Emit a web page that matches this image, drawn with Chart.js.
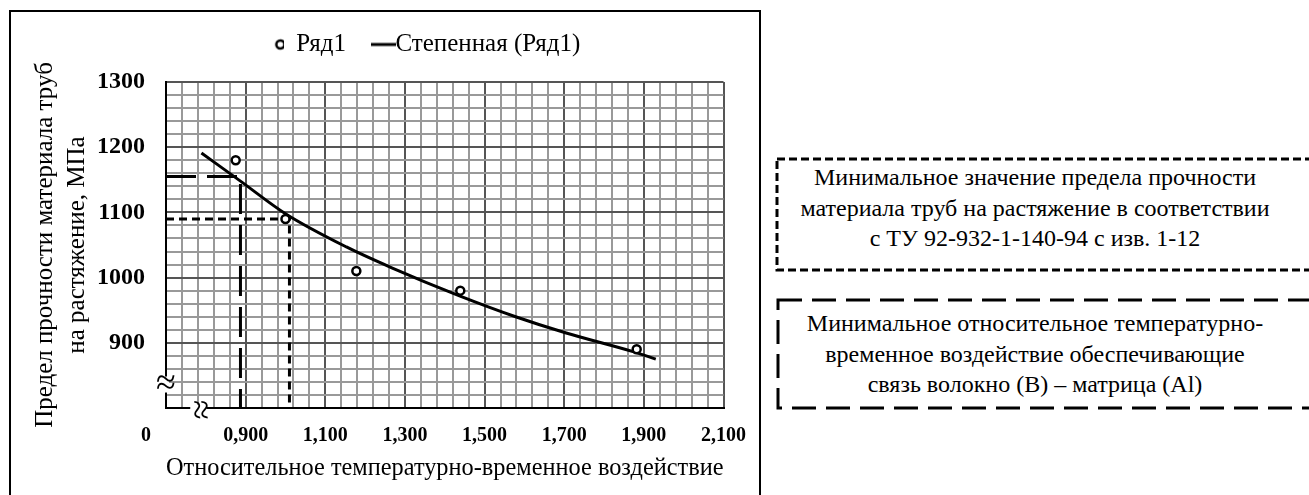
<!DOCTYPE html>
<html>
<head>
<meta charset="utf-8">
<script src="https://cdn.jsdelivr.net/npm/chart.js@4.4.1/dist/chart.umd.min.js"></script>
<style>
  body { margin: 0; background: #fff; width: 1309px; height: 495px; overflow: hidden; position: relative; }
  #wrap { position: absolute; left: 0; top: 0; width: 762px; height: 495px; }
  #notes { position: absolute; left: 762px; top: 0; }
  #notes text { font-family: 'Liberation Serif'; font-size: 24px; fill: #000; }
</style>
</head>
<body>
<div id="wrap"><canvas id="chart" width="762" height="495"></canvas></div>
<svg id="notes" width="547" height="495">
  <rect x="15" y="159" width="560" height="111" fill="none" stroke="#000" stroke-width="3" stroke-dasharray="8 4"/>
  <text x="273" y="185" text-anchor="middle">Минимальное значение предела прочности</text>
  <text x="273" y="216" text-anchor="middle">материала труб на растяжение в соответствии</text>
  <text x="273" y="246" text-anchor="middle">с ТУ 92-932-1-140-94 с изв. 1-12</text>
  <rect x="16" y="300" width="560" height="108" fill="none" stroke="#000" stroke-width="3" stroke-dasharray="24 10"/>
  <text x="273" y="331" text-anchor="middle">Минимальное относительное температурно-</text>
  <text x="273" y="362" text-anchor="middle">временное воздействие обеспечивающие</text>
  <text x="273" y="392" text-anchor="middle">связь волокно (В) – матрица (Al)</text>
</svg>
<script>
// measured points (Ряд1)
const obsX = [0.875, 1.0, 1.178, 1.439, 1.882];
const obsY = [1180, 1090, 1010, 980, 890];

// power trend line
const trendX = [0.789, 0.887, 1.0, 1.153, 1.267, 1.437, 1.578, 1.705, 1.875, 1.930];
const trendY = [1191, 1148, 1098, 1047, 1015, 972, 940, 915, 886, 875];

// guide lines: minimal strength (short dash) and minimal impact (long dash)
const strengthLineX = [0.7, 1.01, 1.01];
const strengthLineY = [1090, 1090, 800];
const impactLineX = [0.7, 0.887, 0.887];
const impactLineY = [1155, 1155, 800];

const xMajor = ['0,900', '1,100', '1,300', '1,500', '1,700', '1,900', '2,100'];
const yMajor = [900, 1000, 1100, 1200, 1300];

const pts = (xs, ys) => xs.map((x, i) => ({ x: x, y: ys[i] }));
const serif = "'Liberation Serif'";

// legend symbols: hollow marker, and a short line that sits right before its text
const marker = document.createElement('canvas');
marker.width = 20; marker.height = 14;
let g = marker.getContext('2d');
g.lineWidth = 2.5;
g.strokeStyle = '#000';
g.beginPath(); g.arc(16.5, 7, 4, 0, Math.PI * 2); g.stroke();

const lineMark = document.createElement('canvas');
lineMark.width = 48; lineMark.height = 6;
g = lineMark.getContext('2d');
g.fillStyle = '#000';
g.fillRect(22, 1.5, 25, 3);

const isMajorX = v => Math.round(v * 100) % 20 === 10;
const isMajorY = v => Math.round(v) % 100 === 0;

const extras = {
  id: 'extras',
  afterLayout(chart) {
    const lg = chart.legend;
    lg.left += 35; lg.right += 35;
    lg.top -= 15; lg.bottom -= 15;
  },
  beforeDraw(chart) {
    const ctx = chart.ctx;
    ctx.save();
    ctx.strokeStyle = '#000';
    ctx.lineWidth = 2;
    ctx.beginPath();
    ctx.moveTo(10, 500); ctx.lineTo(10, 11); ctx.lineTo(760, 11); ctx.lineTo(760, 500);
    ctx.stroke();
    ctx.restore();
  },
  afterDraw(chart) {
    const ctx = chart.ctx, x = chart.scales.x, y = chart.scales.y;
    const a = chart.chartArea;
    ctx.save();
    ctx.fillStyle = '#000';
    ctx.font = 'bold 20px ' + serif;
    ctx.textAlign = 'center';
    ctx.textBaseline = 'middle';
    ctx.fillText('0', a.left - 20, 436);
    // axis breaks
    const by = y.getPixelForValue(836);
    ctx.fillStyle = '#fff';
    ctx.fillRect(a.left - 3, by - 8, 6, 16);
    ctx.fillStyle = '#000';
    ctx.font = '36px ' + serif;
    ctx.fillText('\u2248', a.left, by);
    const bx = x.getPixelForValue(0.781);
    ctx.fillStyle = '#fff';
    ctx.fillRect(bx - 8, a.bottom - 3, 16, 6);
    ctx.fillStyle = '#000';
    ctx.translate(bx, a.bottom + 2);
    ctx.rotate(Math.PI / 2);
    ctx.fillText('\u2248', 0, 0);
    ctx.restore();
  }
};

new Chart(document.getElementById('chart'), {
  type: 'scatter',
  data: {
    datasets: [
      {
        label: 'Ряд1',
        data: pts(obsX, obsY),
        pointRadius: 4,
        pointBorderWidth: 2.5,
        pointBorderColor: '#000',
        pointBackgroundColor: '#fff',
        order: 0
      },
      {
        label: 'Степенная (Ряд1)',
        data: pts(trendX, trendY),
        showLine: true,
        borderColor: '#000',
        borderWidth: 3,
        pointRadius: 0,
        cubicInterpolationMode: 'monotone',
        order: 1
      },
      {
        label: 'strength',
        data: pts(strengthLineX, strengthLineY),
        showLine: true,
        borderColor: '#000',
        borderWidth: 3,
        borderDash: [8, 5],
        pointRadius: 0,
        order: 2
      },
      {
        label: 'impact',
        data: pts(impactLineX, impactLineY),
        showLine: true,
        borderColor: '#000',
        borderWidth: 3,
        borderDash: [30, 11],
        pointRadius: 0,
        order: 3
      }
    ]
  },
  options: {
    responsive: false,
    animation: false,
    layout: { padding: { left: 22, top: 30, right: 10, bottom: 8 } },
    plugins: {
      tooltip: { enabled: false },
      legend: {
        position: 'top',
        labels: {
          color: '#000',
          font: { family: serif, size: 25 },
          usePointStyle: true,
          pointStyleWidth: 20,
          boxHeight: 10,
          padding: 17,
          filter: item => item.datasetIndex < 2,
          generateLabels(chart) {
            const items = Chart.defaults.plugins.legend.labels.generateLabels(chart);
            items[0].pointStyle = marker;
            items[1].pointStyle = lineMark;
            return items;
          }
        }
      }
    },
    scales: {
      x: {
        type: 'linear',
        min: 0.7,
        max: 2.1,
        afterFit(s) { s.height = 79; },
        border: { color: '#000', width: 2 },
        grid: {
          drawTicks: false,
          color: c => isMajorX(c.tick.value) ? '#555' : '#999',
          lineWidth: 2
        },
        ticks: {
          stepSize: 0.04,
          autoSkip: false,
          maxRotation: 0,
          padding: 16,
          color: '#000',
          font: { family: serif, size: 20, weight: 'bold' },
          callback: v => {
            const k = Math.round(v * 100);
            if (k % 20 !== 10 || k < 90) return '';
            return xMajor[(k - 90) / 20];
          }
        },
        title: {
          display: true,
          text: 'Относительное температурно-временное воздействие',
          color: '#000',
          font: { family: serif, size: 26 },
          padding: { top: 0, bottom: 3 }
        }
      },
      y: {
        min: 800,
        max: 1300,
        afterFit(s) { s.width = 144; },
        border: { color: '#000', width: 2 },
        grid: {
          drawTicks: false,
          color: c => isMajorY(c.tick.value) ? '#555' : '#999',
          lineWidth: 2
        },
        ticks: {
          stepSize: 20,
          autoSkip: false,
          padding: 21,
          color: '#000',
          font: { family: serif, size: 24, weight: 'bold' },
          callback: v => yMajor.includes(Math.round(v)) ? String(Math.round(v)) : ''
        },
        title: {
          display: true,
          text: ['Предел прочности материала труб', 'на растяжение, МПа'],
          color: '#000',
          font: { family: serif, size: 25, lineHeight: 1.3 },
          padding: { top: 7, bottom: 0 }
        }
      }
    }
  },
  plugins: [extras]
});
</script>
</body>
</html>
